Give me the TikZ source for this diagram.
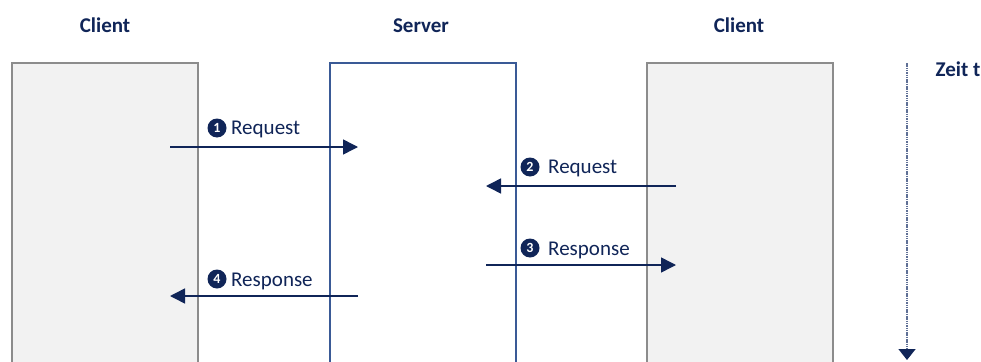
\documentclass[tikz,border=0pt]{standalone}
\usepackage{fontspec}
\setmainfont{Carlito}
\usetikzlibrary{arrows.meta}
\definecolor{navy}{RGB}{16,37,88}
\definecolor{serverblue}{RGB}{58,90,150}
\definecolor{boxgray}{RGB}{140,140,140}
\definecolor{boxfill}{RGB}{242,242,242}
\definecolor{timeblue}{RGB}{95,112,150}
\tikzstyle{clientbox} = [draw=boxgray, fill=boxfill, line width=2.2pt,
    rectangle, minimum width=186pt, minimum height=330pt, anchor=north west, inner sep=0pt]
\tikzstyle{serverbox} = [clientbox, draw=serverblue, fill=white]
\tikzstyle{title} = [text=navy, font=\fontsize{21}{25}\selectfont\bfseries, anchor=base]
\tikzstyle{numdot} = [circle, fill=navy, text=white, inner sep=0pt, minimum size=19pt,
    font=\fontsize{14}{14}\selectfont\bfseries]
\tikzstyle{msg} = [text=navy, font=\fontsize{21}{25}\selectfont, anchor=base west, inner sep=0pt]
\tikzstyle{msgarrow} = [draw=navy, line width=1.5pt, -{Triangle[length=15pt,width=15pt]}]
\tikzstyle{timeline} = [draw=timeblue, line width=1.5pt, dash pattern=on 1.5pt off 0.8pt,
    -{Triangle[length=11pt,width=17pt,color=navy]}]

\begin{document}
\begin{tikzpicture}[x=1pt, y=-1pt]
    \clip (0,0) rectangle (981,361);
    \fill[white] (0,0) rectangle (981,361);

    \node[title] (t1) at (105,33) {Client};
    \node[title] (t2) at (421,33) {Server};
    \node[title] (t3) at (739,33) {Client};

    \node[clientbox] (client1) at (11,62) {};
    \node[serverbox] (server) at (329,62) {};
    \node[clientbox] (client2) at (646,62) {};

    \coordinate (a1) at (170,147);  \coordinate (b1) at (358,147);
    \coordinate (a2) at (676,186);  \coordinate (b2) at (486,186);
    \coordinate (a3) at (486,265);  \coordinate (b3) at (676,265);
    \coordinate (a4) at (358,296);  \coordinate (b4) at (170,296);

    \node[numdot] (n1) at (217,128) {1};
    \node[msg] (m1) at (231,134) {Request};
    \node[numdot] (n2) at (530,167) {2};
    \node[msg] (m2) at (548,173) {Request};
    \node[numdot] (n3) at (530,248) {3};
    \node[msg] (m3) at (548,255) {Response};
    \node[numdot] (n4) at (217,279) {4};
    \node[msg] (m4) at (231,286) {Response};

    \draw[msgarrow] (a1) -- (b1);
    \draw[msgarrow] (a2) -- (b2);
    \draw[msgarrow] (a3) -- (b3);
    \draw[msgarrow] (a4) -- (b4);

    \node[title, anchor=base west] (zeit) at (932,76) {Zeit t};
    \coordinate (tstart) at (907,63);
    \coordinate (tend) at (907,360);
    \draw[timeline] (tstart) -- (tend);
\end{tikzpicture}
\end{document}
